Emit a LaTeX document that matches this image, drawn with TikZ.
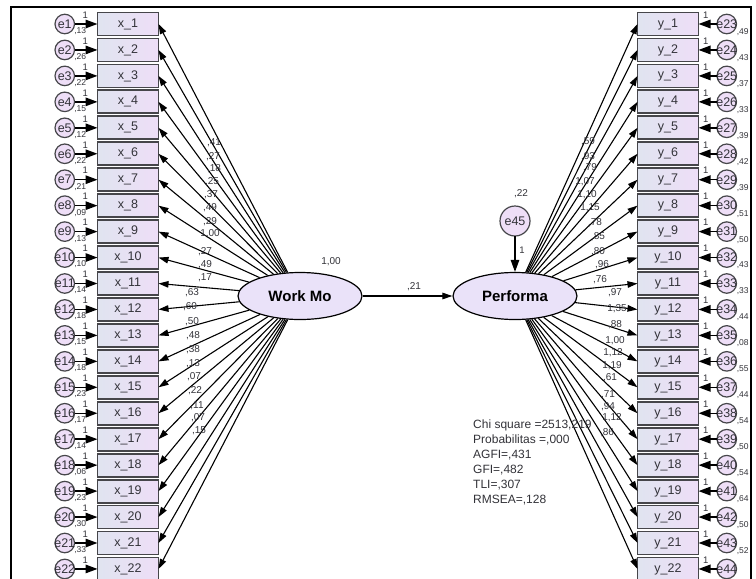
\documentclass[tikz,border=0pt]{standalone}
\usepackage{fontspec}
\setmainfont{Liberation Sans}
\usepackage{xcolor}
\definecolor{grisBorde}{RGB}{70,70,74}
\definecolor{grisTexto}{RGB}{50,50,56}
\definecolor{azulCaja}{RGB}{224,228,240}
\definecolor{lilaCaja}{RGB}{238,222,247}
\definecolor{lilaElip}{RGB}{234,226,249}
\usepackage{tikz}
\usetikzlibrary{shapes.geometric, arrows.meta, positioning}

\begin{document}
\begin{tikzpicture}[
  x=1pt, y=-1pt,
  obs/.style={rectangle, draw=grisBorde, line width=1.8pt, left color=azulCaja, right color=lilaCaja,
              minimum width=61pt, minimum height=23pt, inner sep=1pt, outer sep=0pt,
              font=\fontsize{12.5}{13}\selectfont, text=grisTexto},
  err/.style={circle, draw=grisBorde, line width=1.2pt, fill=lilaCaja, minimum size=19.5pt,
              inner sep=0pt, outer sep=0pt, font=\fontsize{12.5}{13}\selectfont, text=grisTexto},
  lat/.style={ellipse, draw=black, line width=1.2pt, fill=lilaElip, minimum width=124pt,
              minimum height=47pt, font=\fontsize{15}{16}\selectfont\bfseries},
  arr/.style={-{Triangle[length=10pt,width=6.5pt]}, line width=1.1pt},
  earr/.style={-{Triangle[length=12pt,width=8.5pt]}, line width=1.5pt},
  lbl/.style={font=\fontsize{10}{11}\selectfont, text=grisTexto, inner sep=0pt},
  one/.style={font=\fontsize{9.5}{10}\selectfont, text=grisTexto, inner sep=0pt},
  var/.style={font=\fontsize{8.5}{9}\selectfont, text=grisTexto, inner sep=0pt},
  stat/.style={font=\fontsize{12}{15}\selectfont, text=grisTexto, align=left, inner sep=0pt}
]
\useasboundingbox (0,0) rectangle (756,579);

% marco
\draw[line width=1.5pt] (11,579) -- (11,7) -- (751,7) -- (751,579);

% indicadores x
\node[obs] (x1) at (128,24) {x\_1};
\foreach \i [count=\p] in {2,...,22}
  \node[obs, below=2.95pt of x\p] (x\i) {x\_\i};
\foreach \i in {1,...,22}{
  \node[err, left=23pt of x\i] (e\i) {\makebox[0pt]{e\i}};
  \draw[earr] (e\i) -- (x\i);
  \node[one] (ux\i) at ([shift={(20.5,-9)}]e\i.center) {1};
}

% indicadores y
\node[obs] (y1) at (668,24) {y\_1};
\foreach \i [count=\p] in {2,...,22}
  \node[obs, below=2.95pt of y\p] (y\i) {y\_\i};
\foreach \i in {1,...,22}{
  \pgfmathtruncatemacro\j{\i+22}
  \node[err, right=18.5pt of y\i] (e\j) {\makebox[0pt]{e\j}};
  \draw[earr] (e\j) -- (y\i);
  \node[one] (uy\i) at ([shift={(-21,-9)}]e\j.center) {1};
}

% varianzas de error
\foreach \i/\t in {1/13, 2/26, 3/22, 4/15, 5/12, 6/22, 7/21, 8/09, 9/13, 10/10, 11/14,
                   12/18, 13/15, 14/18, 15/23, 16/17, 17/14, 18/06, 19/23, 20/30, 21/33}
  \node[var] (v\i) at ([shift={(15.5,7)}]e\i.center) {,\t};
\foreach \i/\t in {23/49, 24/43, 25/37, 26/33, 27/39, 28/42, 29/39, 30/51, 31/50, 32/43, 33/33,
                   34/44, 35/08, 36/55, 37/44, 38/54, 39/50, 40/54, 41/64, 42/50, 43/52}
  \node[var] (v\i) at ([shift={(16,8)}]e\i.center) {,\t};

% variables latentes
\node[lat] (WM) at (300,296) {Work Mo};
\node[lat] (PF) at (515,296) {Performa};
\node[err, minimum size=30pt] (e45) at (515,221) {e45};

\draw[earr, line width=1.2pt] (e45) -- (PF);
\draw[arr] (WM) -- (PF);
\node[lbl] (vWM) at (331,262) {1,00};
\node[lbl] (bPF) at (414,287) {,21};
\node[lbl] (v45) at (521,194) {,22};
\node[one] (u45) at (522,250) {1};

% cargas
\foreach \i in {1,...,22}{
  \draw[arr] (WM) -- (x\i.east);
  \draw[arr] (PF) -- (y\i.west);
}
\foreach \i/\px/\py/\t in {1/214/143/{,41}, 2/213/157/{,27}, 3/214/169/{,18}, 4/212/182/{,25},
    5/211/195/{,37}, 6/210/208/{,49}, 7/210/222/{,29}, 8/210/234/{1,00}, 9/205/252/{,27},
    10/205/265/{,49}, 11/205/278/{,17}, 12/192/293/{,63}, 13/190/307/{,60}, 14/192/322/{,50},
    15/193/336/{,48}, 16/193/350/{,38}, 17/193/364/{,13}, 18/194/377/{,07}, 19/195/391/{,22},
    20/197/406/{,11}, 21/198/418/{,07}, 22/199/431/{,15}}
  \node[lbl] (wx\i) at (\px,\py) {\t};
\foreach \i/\px/\py/\t in {1/588/142/{,59}, 2/588/157/{,93}, 3/590/168/{,79}, 4/585/182/{1,07},
    5/587/195/{1,10}, 6/590/208/{1,15}, 7/595/223/{,78}, 8/598/237/{,85}, 9/598/252/{,80},
    10/602/265/{,96}, 11/600/280/{,76}, 12/615/293/{,97}, 13/617/309/{1,35}, 14/615/325/{,88},
    15/615/341/{1,00}, 16/613/353/{1,12}, 17/612/366/{1,19}, 18/610/378/{,61}, 19/608/395/{,71},
    20/608/407/{,94}, 21/612/418/{1,12}, 22/607/433/{,86}}
  \node[lbl] (wy\i) at (\px,\py) {\t};

% ajuste
\node[stat, anchor=north west] (fit) at (473,420) {Chi square =2513,219\\ Probabilitas =,000\\
  AGFI=,431\\ GFI=,482\\ TLI=,307\\ RMSEA=,128};

\end{tikzpicture}
\end{document}
